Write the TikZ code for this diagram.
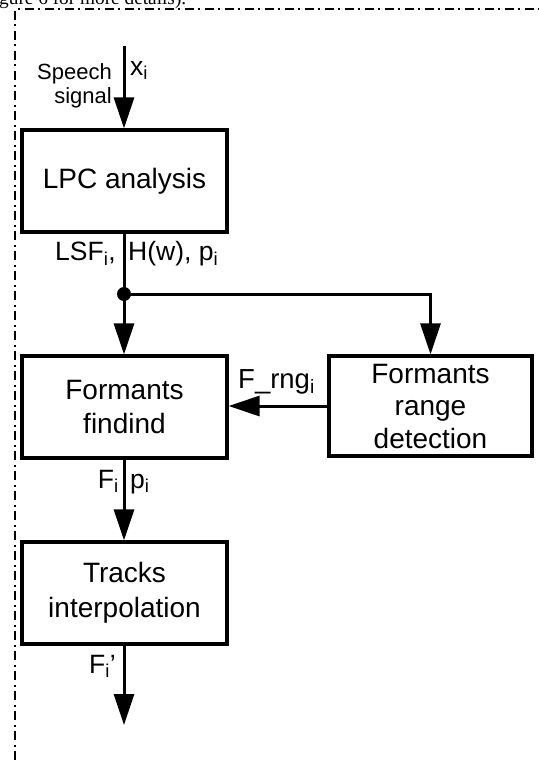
\documentclass[tikz,border=0pt]{standalone}
\usepackage{fontspec}
\setmainfont{Liberation Sans}
\newfontfamily\capfont{Liberation Serif}
\usetikzlibrary{arrows.meta}
\usetikzlibrary{positioning}

\begin{document}
\begin{tikzpicture}[x=1pt,y=-1pt,
  box/.style={draw, line width=3.2pt, minimum width=205pt, minimum height=102pt,
    align=center, inner sep=0pt, font=\fontsize{28}{35}\selectfont},
  lbl/.style={inner sep=0pt, font=\fontsize{26.5}{26}\selectfont},
  flow/.style={line width=3pt, -{Triangle[length=31pt,width=20pt]}}]
\useasboundingbox (0,0) rectangle (538,760);
\node[anchor=base west, inner sep=0pt, font=\capfont\fontsize{19.3}{20}\selectfont] (cap) at (-1,5) {gure 6 for more details).};
\draw[line width=2pt, dash pattern=on 9pt off 4.5pt on 2pt off 4.5pt] (15,780) -- (15,9.5) -- (560,9.5);

\node[box] (lpc) at (124.5,181) {LPC analysis};
\node[box] (find) at (124.5,407) {Formants\\findind};
\node[box, minimum width=203pt, minimum height=100pt, font=\fontsize{28}{32.5}\selectfont] (range) at (430.5,406) {Formants\\range\\detection};
\node[box] (track) at (124.5,593) {Tracks\\interpolation};

\coordinate (in) at (124,46);
\coordinate (split) at (124,294);
\coordinate (out) at (124,725);

\draw[flow] (in) -- (in |- lpc.north);
\draw[line width=3pt] (split |- lpc.south) -- (split);
\fill (split) circle (7pt);
\draw[flow] (split) -- (split |- find.north);
\draw[flow] (split) -| (range.north);
\draw[flow] (range.west) -- (range.west -| find.east);
\draw[flow] (split |- find.south) -- (split |- track.north);
\draw[flow] (out |- track.south) -- (out);

\node[lbl, align=right, anchor=east, font=\fontsize{22}{24}\selectfont] (speech) at (112,85.5) {Speech\\signal};
\node[lbl, anchor=base west] (xi) at (130,75) {x\textsubscript{i}};
\node[lbl, anchor=base east] (lsf) at (116,260.3) {LSF\textsubscript{i},};
\node[lbl, anchor=base west] (hw) at (128,260.3) {H(w), p\textsubscript{i}};
\node[lbl, anchor=base west, font=\fontsize{27.5}{26}\selectfont] (rng) at (238,388) {F\_rng\textsubscript{i}};
\node[lbl, anchor=base east] (fi) at (119,488) {F\textsubscript{i}};
\node[lbl, anchor=base west] (pi) at (130,488) {p\textsubscript{i}};
\node[lbl, anchor=base east] (fo) at (116,673) {F\textsubscript{i}’};
\end{tikzpicture}
\end{document}
